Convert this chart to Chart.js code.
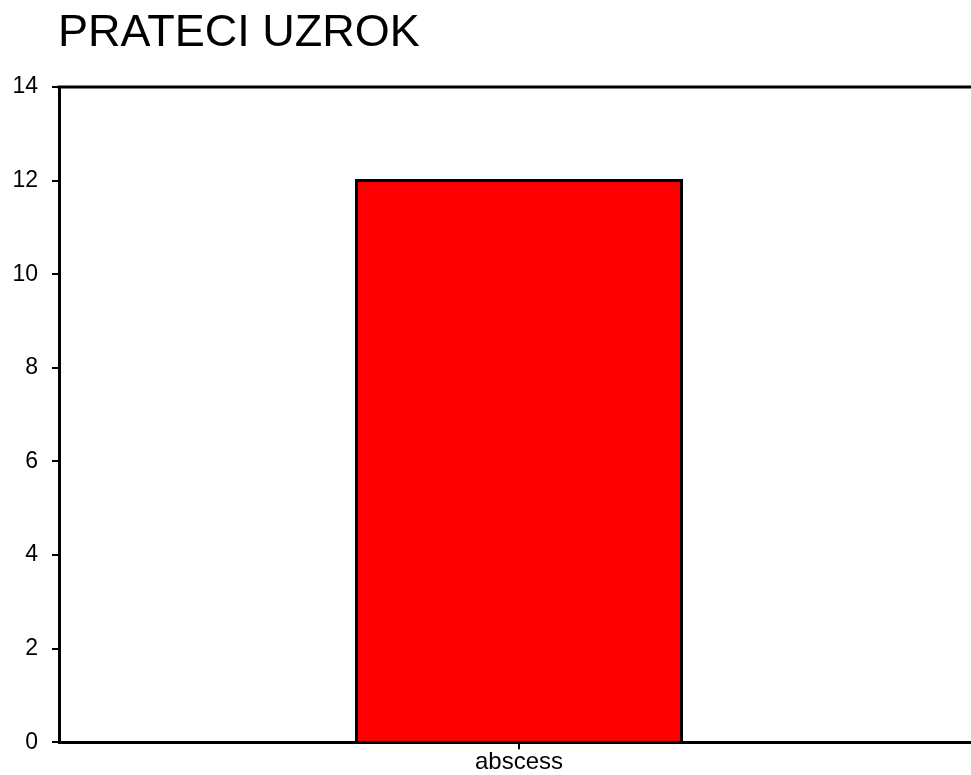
<!DOCTYPE html>
<html>
<head>
<meta charset="utf-8">
<script src="https://cdn.jsdelivr.net/npm/chart.js@4/dist/chart.umd.min.js"></script>
<style>
  html, body { margin: 0; padding: 0; background: #fff; overflow: hidden; }
  #wrap { width: 979px; height: 775px; }
</style>
</head>
<body>
<div id="wrap"><canvas id="chart"></canvas></div>
<script>
var categories = ['abscess'];
var counts = [12];
var yMin = 0, yMax = 14, yStep = 2;
var titleText = 'PRATECI UZROK';
var fontFamily = '"Liberation Sans", Arial, sans-serif';

// title left-aligned with the y axis, plus a frame line along the top of the plot
var frameAndTitle = {
  id: 'frameAndTitle',
  afterDraw: function (chart) {
    var a = chart.chartArea;
    var ctx = chart.ctx;
    ctx.save();
    ctx.strokeStyle = '#000';
    ctx.lineWidth = 3;
    ctx.beginPath();
    ctx.moveTo(a.left - 1.5, a.top);
    ctx.lineTo(a.right, a.top);
    ctx.stroke();

    ctx.fillStyle = '#000';
    ctx.font = '45px ' + fontFamily;
    ctx.textAlign = 'left';
    ctx.textBaseline = 'alphabetic';
    ctx.fillText(titleText, a.left - 1, 46);
    ctx.restore();
  }
};

var ctx = document.getElementById('chart').getContext('2d');
var chart = new Chart(ctx, {
  type: 'bar',
  data: {
    labels: categories,
    datasets: [{
      data: counts,
      backgroundColor: '#ff0000',
      borderColor: '#000',
      borderWidth: 3,
      inflateAmount: 1.5,
      barPercentage: 0.3533,
      categoryPercentage: 1
    }]
  },
  options: {
    responsive: true,
    maintainAspectRatio: false,
    animation: false,
    layout: { padding: { left: 0, right: 0, top: 87, bottom: 0 } },
    plugins: {
      legend: { display: false },
      tooltip: { enabled: false },
      title: { display: false }
    },
    scales: {
      x: {
        grid: { display: true, offset: false, drawOnChartArea: false, drawTicks: true, tickLength: 7, color: '#000', lineWidth: 2 },
        border: { display: true, color: '#000', width: 3 },
        ticks: {
          color: '#000',
          padding: -1.5,
          font: { family: fontFamily, size: 24 }
        }
      },
      y: {
        min: yMin,
        max: yMax,
        afterFit: function (scale) { scale.width = 59; },
        grid: { display: true, drawOnChartArea: false, drawTicks: true, tickLength: 7, color: '#000', lineWidth: 2 },
        border: { display: true, color: '#000', width: 3 },
        ticks: {
          color: '#000',
          padding: 14,
          stepSize: yStep,
          font: { family: fontFamily, size: 23 }
        }
      }
    }
  },
  plugins: [frameAndTitle]
});
</script>
</body>
</html>
